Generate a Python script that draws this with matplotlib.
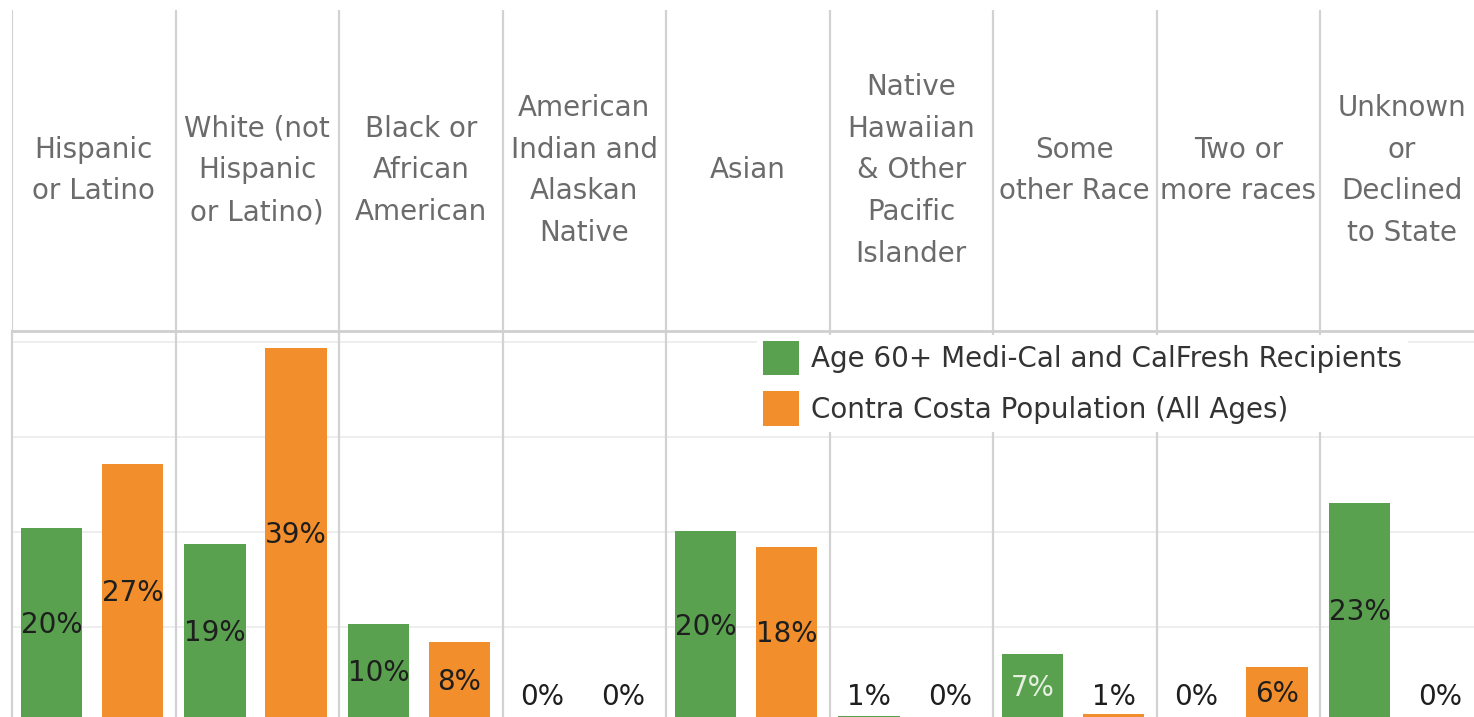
import matplotlib
matplotlib.use("Agg")
import matplotlib.pyplot as plt
import numpy as np

categories = [
    "Hispanic\nor Latino",
    "White (not\nHispanic\nor Latino)",
    "Black or\nAfrican\nAmerican",
    "American\nIndian and\nAlaskan\nNative",
    "Asian",
    "Native\nHawaiian\n& Other\nPacific\nIslander",
    "Some\nother Race",
    "Two or\nmore races",
    "Unknown\nor\nDeclined\nto State",
]
series_names = ["Age 60+ Medi-Cal and CalFresh Recipients",
                "Contra Costa Population (All Ages)"]
recipients = [20.4, 18.7, 10.3, 0.3, 20.1, 0.6, 7.2, 0.2, 23.1]
population = [27.2, 39.4, 8.4, 0.3, 18.45, 0.4, 0.8, 5.8, 0.0]

GREEN = "#59a14f"
ORANGE = "#f28e2b"
DIV = "#d2d2d2"

W, H = 1474, 717
fig = plt.figure(figsize=(W / 100, H / 100), dpi=100)
fx = lambda px: px / W
fy = lambda py: 1 - py / H

colw = 163.5
ax = fig.add_axes([fx(12), fy(722), 9 * colw / W, (722 - 331) / H])
hx = fig.add_axes([fx(12), fy(331), 9 * colw / W, (331 - 10) / H])

n = len(categories)
x = np.arange(n)
ax.set_xlim(0, n)
ax.set_ylim(0, 41.16)
b1 = ax.bar(x + 0.242, recipients, width=0.378, color=GREEN, label=series_names[0], zorder=2)
b2 = ax.bar(x + 0.737, population, width=0.378, color=ORANGE, label=series_names[1], zorder=2)

ax.set_yticks([10, 20, 30, 40])
ax.set_xticks([])
ax.yaxis.grid(True, color="#ededed", lw=1.3)
ax.set_axisbelow(True)
ax.tick_params(left=False, labelleft=False)
for s in ["right", "bottom"]:
    ax.spines[s].set_visible(False)
ax.spines["left"].set_color(DIV)
ax.spines["left"].set_linewidth(1.6)
ax.spines["top"].set_color("#cfcfcf")
ax.spines["top"].set_linewidth(2.0)
for i in range(1, n):
    ax.axvline(i, color=DIV, lw=1.6, zorder=1)

for xs, vals, col in [(x + 0.242, recipients, "g"), (x + 0.737, population, "o")]:
    for xi, v in zip(xs, vals):
        lab = f"{int(v + 0.5)}%"
        c = "#1e1e1e"
        if col == "g" and lab == "7%":
            c = "#e6efe0"
        ax.text(xi, max(v / 2, 2.6), lab, ha="center", va="center",
                fontsize=20, color=c, zorder=3)

hx.set_xlim(0, n)
hx.set_ylim(0, 1)
hx.axis("off")
for i in range(0, n):
    hx.plot([i, i], [0, 1], color=DIV, lw=1.6)
for i, cat in enumerate(categories):
    hx.text(i + 0.5, 0.5, cat, ha="center", va="center", fontsize=20,
            color="#6b6b6b", linespacing=1.63, multialignment="center")

leg = ax.legend(handles=[b1, b2], loc="upper left",
                bbox_to_anchor=(fx(757), fy(335)), bbox_transform=fig.transFigure,
                fontsize=20, labelcolor="#333333", frameon=True, facecolor="white",
                edgecolor="none", framealpha=1, fancybox=False,
                handlelength=1.3, handleheight=1.55, handletextpad=0.45,
                labelspacing=0.58, borderpad=0.2, borderaxespad=0)
leg.set_zorder(2.4)

fig.savefig("out.png", dpi=100)
